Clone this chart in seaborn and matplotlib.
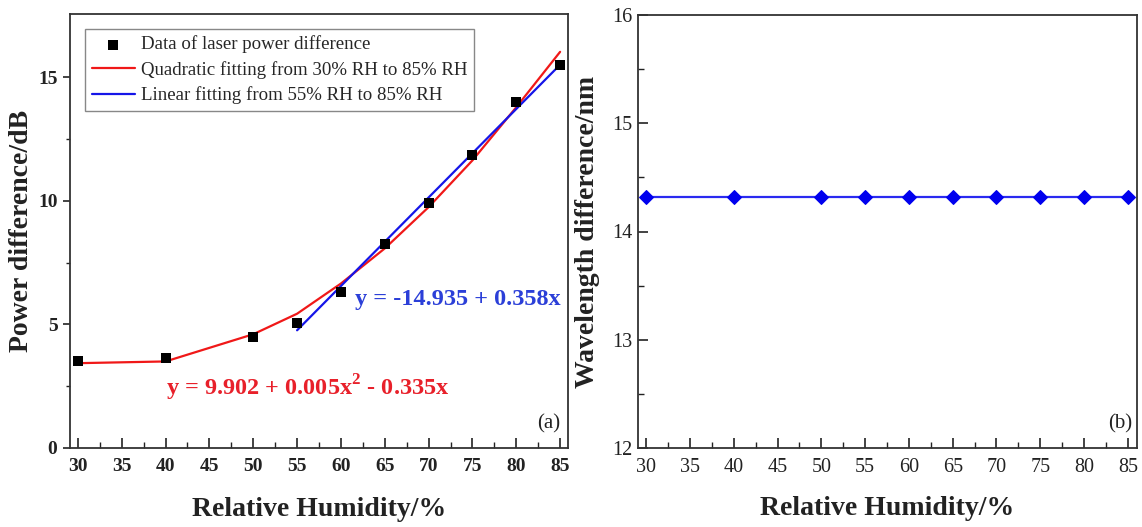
import matplotlib
matplotlib.use("Agg")
import matplotlib.pyplot as plt
from matplotlib.ticker import MultipleLocator, FixedLocator
import seaborn as sns
import pandas as pd

# ---- data ----
rh = [30, 40, 50, 55, 60, 65, 70, 75, 80, 85]
power_diff = [3.50, 3.64, 4.50, 5.04, 6.32, 8.26, 9.90, 11.86, 14.00, 15.48]
quad_fit = [3.43, 3.50, 4.60, 5.43, 6.65, 8.07, 9.74, 11.63, 13.78, 16.02]
lin_x = [55, 85]
lin_fit = [4.76, 15.50]
wavelength_diff = [14.32, 14.32, 14.32, 14.32, 14.32, 14.32, 14.32, 14.32, 14.32, 14.32]

x_ticks = [30, 35, 40, 45, 50, 55, 60, 65, 70, 75, 80, 85]
y_ticks_a = [0, 5, 10, 15]
y_minor_a = [2.5, 7.5, 12.5]
y_ticks_b = [12, 13, 14, 15, 16]

label_pts = "Data of laser power difference"
label_quad = "Quadratic fitting from 30% RH to 85% RH"
label_lin = "Linear fitting from 55% RH to 85% RH"
eq_quad = "y = 9.902 + 0.005x$^{\\mathbf{2}}$ - 0.335x"
eq_lin = "y = -14.935 + 0.358x"
xlabel = "Relative Humidity/%"
ylabel_a = "Power difference/dB"
ylabel_b = "Wavelength difference/nm"

sns.set_style("white")
plt.rcParams["font.family"] = ["Liberation Serif", "DejaVu Serif"]
plt.rcParams["mathtext.fontset"] = "custom"
plt.rcParams["mathtext.rm"] = "Liberation Serif"
plt.rcParams["mathtext.bf"] = "Liberation Serif:bold"

W, H = 1142, 527
fig = plt.figure(figsize=(W / 100, H / 100), dpi=100)
ax1 = fig.add_axes([70 / W, 1 - 448 / H, (568 - 70) / W, (448 - 14) / H])
ax2 = fig.add_axes([637.5 / W, 1 - 448 / H, (1137 - 637.5) / W, (448 - 15) / H])

df_pts = pd.DataFrame({"rh": rh, "p": power_diff})
df_quad = pd.DataFrame({"rh": rh, "q": quad_fit})
df_lin = pd.DataFrame({"rh": lin_x, "l": lin_fit})
df_wl = pd.DataFrame({"rh": rh, "w": wavelength_diff})

red_line = "#f01818"
blue_line = "#1515e8"
tick_col = "#222222"

# ---- panel (a) ----
sns.lineplot(data=df_quad, x="rh", y="q", ax=ax1, color=red_line, lw=1.6,
             label=label_quad, zorder=2)
sns.lineplot(data=df_lin, x="rh", y="l", ax=ax1, color=blue_line, lw=1.6,
             label=label_lin, zorder=3)
sns.scatterplot(data=df_pts, x="rh", y="p", ax=ax1, marker="s", s=55,
                color="black", edgecolor="black", linewidth=0,
                label=label_pts, zorder=4)

ax1.set_xlim(29.1, 85.9)
ax1.set_ylim(0, 17.55)
ax1.set_xticks(x_ticks)
ax1.set_yticks(y_ticks_a)
ax1.xaxis.set_minor_locator(MultipleLocator(2.5))
ax1.yaxis.set_minor_locator(FixedLocator(y_minor_a))
ax1.tick_params(bottom=True, left=True, which="both")
ax1.tick_params(axis="x", which="major", direction="in", length=7, width=1.2,
                labelsize=14, pad=7, color=tick_col, labelcolor=tick_col)
ax1.tick_params(axis="x", which="minor", direction="in", length=4, width=1.0,
                color=tick_col)
ax1.tick_params(axis="y", which="major", direction="out", length=5, width=1.2,
                labelsize=14, pad=4, color=tick_col, labelcolor=tick_col)
ax1.tick_params(axis="y", which="minor", direction="out", length=3, width=1.0,
                color=tick_col)
for lab in ax1.get_xticklabels() + ax1.get_yticklabels():
    lab.set_fontweight("bold")
ax1.set_xlabel(xlabel, fontsize=20, fontweight="bold", color=tick_col)
ax1.set_ylabel(ylabel_a, fontsize=20, fontweight="bold", color=tick_col)
ax1.xaxis.set_label_coords(0.5, -0.112)
ax1.yaxis.set_label_coords(-0.072, 0.5)

h, l = ax1.get_legend_handles_labels()
order = [l.index(label_pts), l.index(label_quad), l.index(label_lin)]
leg = ax1.legend([h[i] for i in order], [l[i] for i in order],
                 loc="upper left", bbox_to_anchor=(15 / 498, (448 - 29) / 434),
                 borderaxespad=0, fontsize=13.6, frameon=True, fancybox=False,
                 framealpha=1, edgecolor="#888888", handlelength=2.3,
                 handletextpad=0.3, labelspacing=0.4, borderpad=0.35)
leg.get_frame().set_linewidth(1.0)

ax1.text(0.193, 0.138, eq_quad, transform=ax1.transAxes, color="#e8202a",
         fontsize=17.5, fontweight="bold", ha="left", va="center")
ax1.text(0.572, 0.343, eq_lin, transform=ax1.transAxes, color="#2b3fd8",
         fontsize=17.5, fontweight="bold", ha="left", va="center")
ax1.text(0.984, 0.055, "(a)", transform=ax1.transAxes, fontsize=15,
         ha="right", va="center", color=tick_col)

# ---- panel (b) ----
sns.lineplot(data=df_wl, x="rh", y="w", ax=ax2, color="#2a2af0", lw=1.6,
             marker="D", markersize=7, markerfacecolor="#0000ee",
             markeredgecolor="#0000ee", zorder=3)
ax2.set_xlim(29.0, 86.05)
ax2.set_ylim(12, 16)
ax2.set_xticks(x_ticks)
ax2.set_yticks(y_ticks_b)
ax2.xaxis.set_minor_locator(MultipleLocator(2.5))
ax2.yaxis.set_minor_locator(MultipleLocator(0.5))
ax2.tick_params(bottom=True, left=True, which="both")
ax2.tick_params(axis="both", which="major", direction="in", length=7, width=1.2,
                labelsize=14.5, color=tick_col, labelcolor=tick_col)
ax2.tick_params(axis="x", which="major", pad=7)
ax2.tick_params(axis="both", which="minor", direction="in", length=4, width=1.0,
                color=tick_col)
ax2.set_xlabel(xlabel, fontsize=20, fontweight="bold", color=tick_col)
ax2.set_ylabel(ylabel_b, fontsize=20, fontweight="bold", color=tick_col)
ax2.xaxis.set_label_coords(0.5, -0.112)
ax2.yaxis.set_label_coords(-0.075, 0.5)
ax2.text(0.99, 0.055, "(b)", transform=ax2.transAxes, fontsize=15,
         ha="right", va="center", color=tick_col)

for ax in (ax1, ax2):
    for sp in ax.spines.values():
        sp.set_visible(True)
        sp.set_color("#333333")
        sp.set_linewidth(1.3)
    ax.set_facecolor("white")

fig.savefig("out.png", dpi=100, facecolor="white")
